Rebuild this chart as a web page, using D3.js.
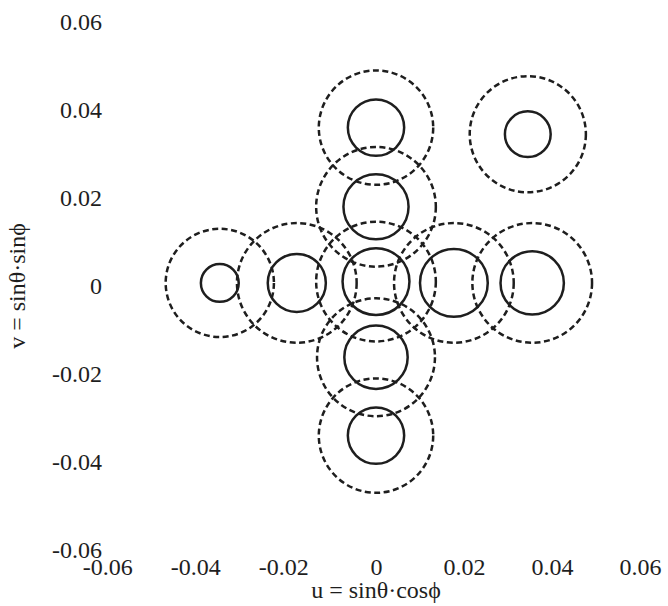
<!DOCTYPE html>
<html>
<head>
<meta charset="utf-8">
<script src="https://cdn.jsdelivr.net/npm/d3@7"></script>
<style>
  body { margin: 0; background: #fff; }
  svg { display: block; }
  .tick text { font-family: "Liberation Serif", "Times New Roman", serif; font-size: 24px; fill: #1e1e1e; }
  .title { font-family: "Liberation Serif", "Times New Roman", serif; font-size: 24px; fill: #1e1e1e; }
</style>
</head>
<body>
<div id="chart"></div>
<script>
// circle centres (u, v) and radii, all in data units
var centerU = [0, 0.0345, 0, -0.0355, -0.018, 0, 0.0177, 0.0355, 0, 0];
var centerV = [0.036, 0.0345, 0.018, 0.0007, 0.0007, 0.001, 0.0007, 0.0007, -0.0162, -0.034];
var solidR  = [0.0064, 0.0052, 0.0074, 0.0043, 0.0066, 0.0076, 0.0077, 0.0072, 0.0072, 0.0064];
var dashedR = [0.013, 0.0132, 0.0136, 0.0123, 0.0136, 0.0136, 0.0136, 0.0136, 0.0134, 0.013];
var tickValues = [-0.06, -0.04, -0.02, 0, 0.02, 0.04, 0.06];

var width = 668, height = 606;
var plotLeft = 112, plotRight = 640, plotTop = 22, plotBottom = 550;

var svg = d3.select("#chart").append("svg")
  .attr("width", width)
  .attr("height", height);

var x = d3.scaleLinear().domain([-0.06, 0.06]).range([plotLeft, plotRight]);
var y = d3.scaleLinear().domain([-0.06, 0.06]).range([plotBottom, plotTop]);

var fmt = d => d === 0 ? "0" : d.toFixed(2);

/* axes - no lines, just labels */
var xAxis = d3.axisBottom(x).tickValues(tickValues).tickFormat(fmt).tickSize(0).tickPadding(8);
var yAxis = d3.axisLeft(y).tickValues(tickValues).tickFormat(fmt).tickSize(0).tickPadding(10);

svg.append("g")
  .attr("transform", `translate(0, ${plotBottom})`)
  .call(xAxis)
  .call(g => g.select(".domain").remove())
  .selectAll("text")
  .attr("font-size", null).attr("font-family", null)
  .attr("dx", d => d < 0 ? "-0.2em" : 0);   // numbers centred, minus hangs left

svg.append("g")
  .attr("transform", `translate(${plotLeft}, 0)`)
  .call(yAxis)
  .call(g => g.select(".domain").remove())
  .selectAll("text").attr("font-size", null).attr("font-family", null);

svg.selectAll("g.tick text").attr("fill", null);

/* axis titles */
svg.append("text")
  .attr("class", "title")
  .attr("x", x(0))
  .attr("y", 598)
  .attr("text-anchor", "middle")
  .text("u = sin\u03b8\u00b7cos\u03d5");

svg.append("text")
  .attr("class", "title")
  .attr("transform", `translate(25, ${y(0)}) rotate(-90)`)
  .attr("text-anchor", "middle")
  .text("v = sin\u03b8\u00b7sin\u03d5");

/* circles */
var idx = d3.range(centerU.length);

svg.append("g")
  .selectAll("circle")
  .data(idx).enter()
  .append("circle")
  .attr("cx", i => x(centerU[i]))
  .attr("cy", i => y(centerV[i]))
  .attr("r", i => x(dashedR[i]) - x(0))
  .attr("fill", "none")
  .attr("stroke", "#1e1e1e")
  .attr("stroke-width", 2.5)
  .attr("stroke-dasharray", "6,3.5");

svg.append("g")
  .selectAll("circle")
  .data(idx).enter()
  .append("circle")
  .attr("cx", i => x(centerU[i]))
  .attr("cy", i => y(centerV[i]))
  .attr("r", i => x(solidR[i]) - x(0))
  .attr("fill", "none")
  .attr("stroke", "#1e1e1e")
  .attr("stroke-width", 2.5);
</script>
</body>
</html>
